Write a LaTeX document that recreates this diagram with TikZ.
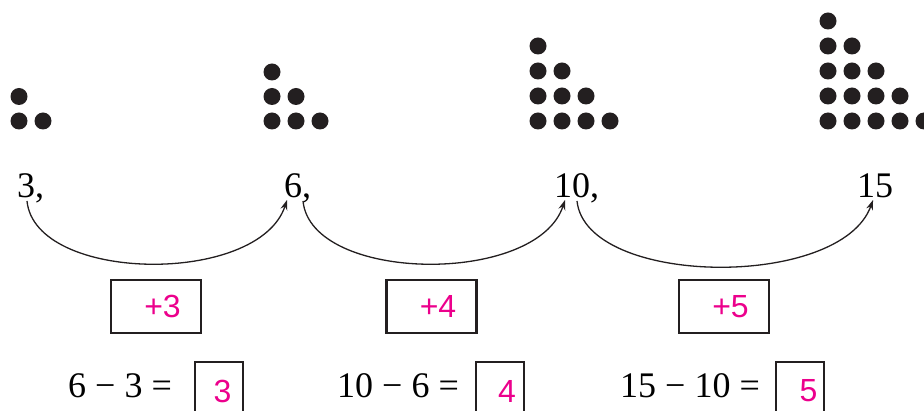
\documentclass[tikz,border=0pt]{standalone}
\usepackage{fontspec}
\setmainfont{Liberation Serif}
\newfontfamily\pinkfont{Liberation Sans}
\usetikzlibrary{arrows.meta,calc}
\definecolor{dotc}{HTML}{231F20}
\definecolor{pinkc}{HTML}{EC008C}
\tikzset{
  dotfill/.style={fill=dotc},
  num/.style={inner sep=0pt, anchor=base west, font=\fontsize{36}{40}\selectfont},
  eqn/.style={inner sep=0pt, anchor=base west, font=\fontsize{36}{40}\selectfont},
  arc/.style={line width=1.3pt, draw=dotc, -{Stealth[length=10pt,width=7pt]}},
  stepbox/.style={draw=dotc, line width=2.3pt, minimum width=90pt, minimum height=53pt, inner sep=0pt, text=pinkc, font=\pinkfont\fontsize{32}{36}\selectfont},
  ansbox/.style={draw=dotc, line width=2.3pt, minimum width=48pt, minimum height=58pt, inner sep=0pt, text=pinkc, font=\pinkfont\fontsize{32}{36}\selectfont}
}
\begin{document}
\begin{tikzpicture}[x=1pt,y=-1pt]
\begin{scope}
\clip (0,0) rectangle (924,411);
% dot triangles
\foreach \r in {1,...,2}{\foreach \c in {1,...,\r}{\fill[dotfill] ({19+24*(\c-1)},{121-24.5*(2-\r)}) circle (8.5);}}
\foreach \r in {1,...,3}{\foreach \c in {1,...,\r}{\fill[dotfill] ({272+24*(\c-1)},{121-24.5*(3-\r)}) circle (8.5);}}
\foreach \r in {1,...,4}{\foreach \c in {1,...,\r}{\fill[dotfill] ({538+24*(\c-1)},{121-25*(4-\r)}) circle (8.5);}}
\foreach \r in {1,...,5}{\foreach \c in {1,...,\r}{\fill[dotfill] ({828+24*(\c-1)},{121-25*(5-\r)}) circle (8.5);}}
% numbers
\node[num] (n3) at (17,198) {3,};
\node[num] (n6) at (284,198) {6,};
\node[num] (n10) at (554,198) {10,};
\node[num] (n15) at (857,198) {15};
% arcs
\draw[arc] ($(n3.base west)+(10,3)$) .. controls +(8,82) and +(-28,86) .. ($(n6.base west)+(3,2)$);
\draw[arc] ($(n6.base west)+(19,3)$) .. controls +(8,82) and +(-28,86) .. ($(n10.base west)+(11,2)$);
\draw[arc] ($(n10.base west)+(23,3)$) .. controls +(9,86) and +(-32,90) .. ($(n15.base west)+(16,2)$);
% step boxes
\node[stepbox] (b3) at (156,306.5) {\hspace*{13pt}+3};
\node[stepbox] (b4) at (431.5,306.5) {\hspace*{13pt}+4};
\node[stepbox] (b5) at (724,306.5) {\hspace*{13pt}+5};
% equations
\node[eqn] (e1) at (68,398) {6 − 3 =};
\node[eqn] (e2) at (337,398) {10 − 6 =};
\node[eqn] (e3) at (620,398) {15 − 10 =};
\node[ansbox] (a1) at (219,391) {\hspace*{7pt}3};
\node[ansbox] (a2) at (500,391) {\hspace*{14pt}4};
\node[ansbox] (a3) at (800,391) {\hspace*{17pt}5};
\end{scope}
\pgfresetboundingbox
\useasboundingbox (0,0) rectangle (924,411);
\end{tikzpicture}
\end{document}
